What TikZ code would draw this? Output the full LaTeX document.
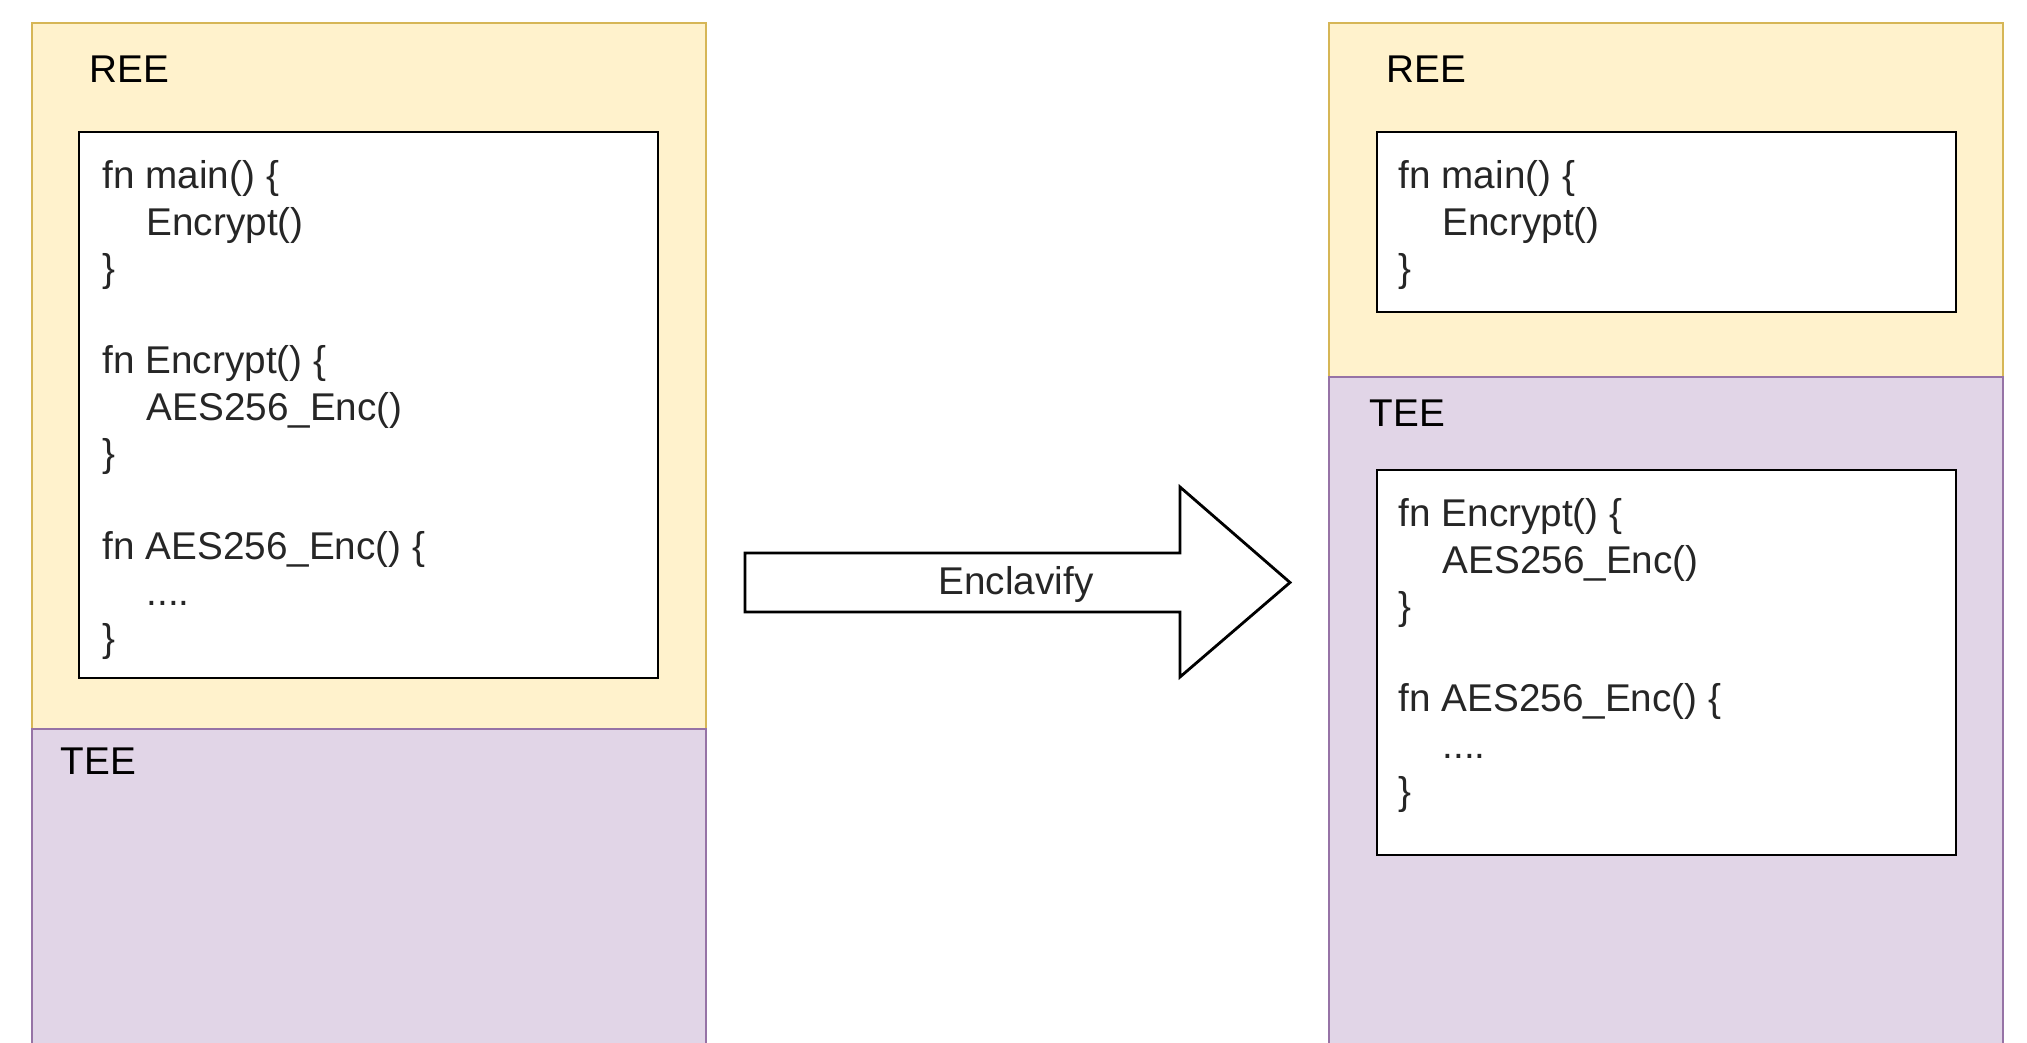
\documentclass[tikz,border=0pt]{standalone}
\usepackage{fontspec}
\setmainfont{Liberation Sans}
\usetikzlibrary{positioning}

\newcommand{\ind}{\hspace*{12.5pt}}

\begin{document}
\begin{tikzpicture}[x=0.01cm,y=-0.01cm,
  ree/.style={fill=reefill,draw=reeline,line width=0.6pt},
  tee/.style={fill=teefill,draw=teeline,line width=0.6pt},
  codebox/.style={fill=white,draw=black,line width=0.8pt},
  zone/.style={anchor=base west,inner sep=0pt,font=\fontsize{11}{13.2}\selectfont},
  code/.style={anchor=north west,inner sep=0pt,align=left,text=black!85,
    font=\fontsize{11}{13.17}\selectfont},
  bigarrow/.style={fill=white,draw=black,line width=0.8pt,line join=miter}]

\definecolor{reefill}{HTML}{FFF2CC}
\definecolor{reeline}{HTML}{D6B656}
\definecolor{teefill}{HTML}{E1D5E7}
\definecolor{teeline}{HTML}{9673A6}

\useasboundingbox (0,0) rectangle (2027,1043);
\clip (0,0) rectangle (2027,1043);

% before
\draw[ree] (32,23) rectangle (706,729);
\draw[tee] (32,729) rectangle (706,1100);
\node[zone] (reeA) at (89,83) {REE};
\node[zone] (teeA) at (60,774) {TEE};
\draw[codebox] (79,132) rectangle (658,678);
\node[code] (srcA) at (102,160) {fn main() \{\\
  \ind Encrypt()\\
  \}\\
  \\
  fn Encrypt() \{\\
  \ind AES256\_Enc()\\
  \}\\
  \\
  fn AES256\_Enc() \{\\
  \ind ....\\
  \}};

% transformation
\draw[bigarrow] (745,553) -- (1180,553) -- (1180,487) -- (1290,582.5)
  -- (1180,677) -- (1180,612) -- (745,612) -- cycle;
\node[anchor=base,inner sep=0pt,font=\fontsize{11}{13.2}\selectfont,text=black!85]
  (enclavify) at (1016,594) {Enclavify};

% after
\draw[ree] (1329,23) rectangle (2003,377);
\draw[tee] (1329,377) rectangle (2003,1100);
\node[zone] (reeB) at (1386,83) {REE};
\node[zone] (teeB) at (1369,427) {TEE};
\draw[codebox] (1377,132) rectangle (1956,312);
\node[code] (srcB) at (1398,160) {fn main() \{\\
  \ind Encrypt()\\
  \}};
\draw[codebox] (1377,470) rectangle (1956,855);
\node[code] (srcC) at (1398,498) {fn Encrypt() \{\\
  \ind AES256\_Enc()\\
  \}\\
  \\
  fn AES256\_Enc() \{\\
  \ind ....\\
  \}};

\end{tikzpicture}
\end{document}
